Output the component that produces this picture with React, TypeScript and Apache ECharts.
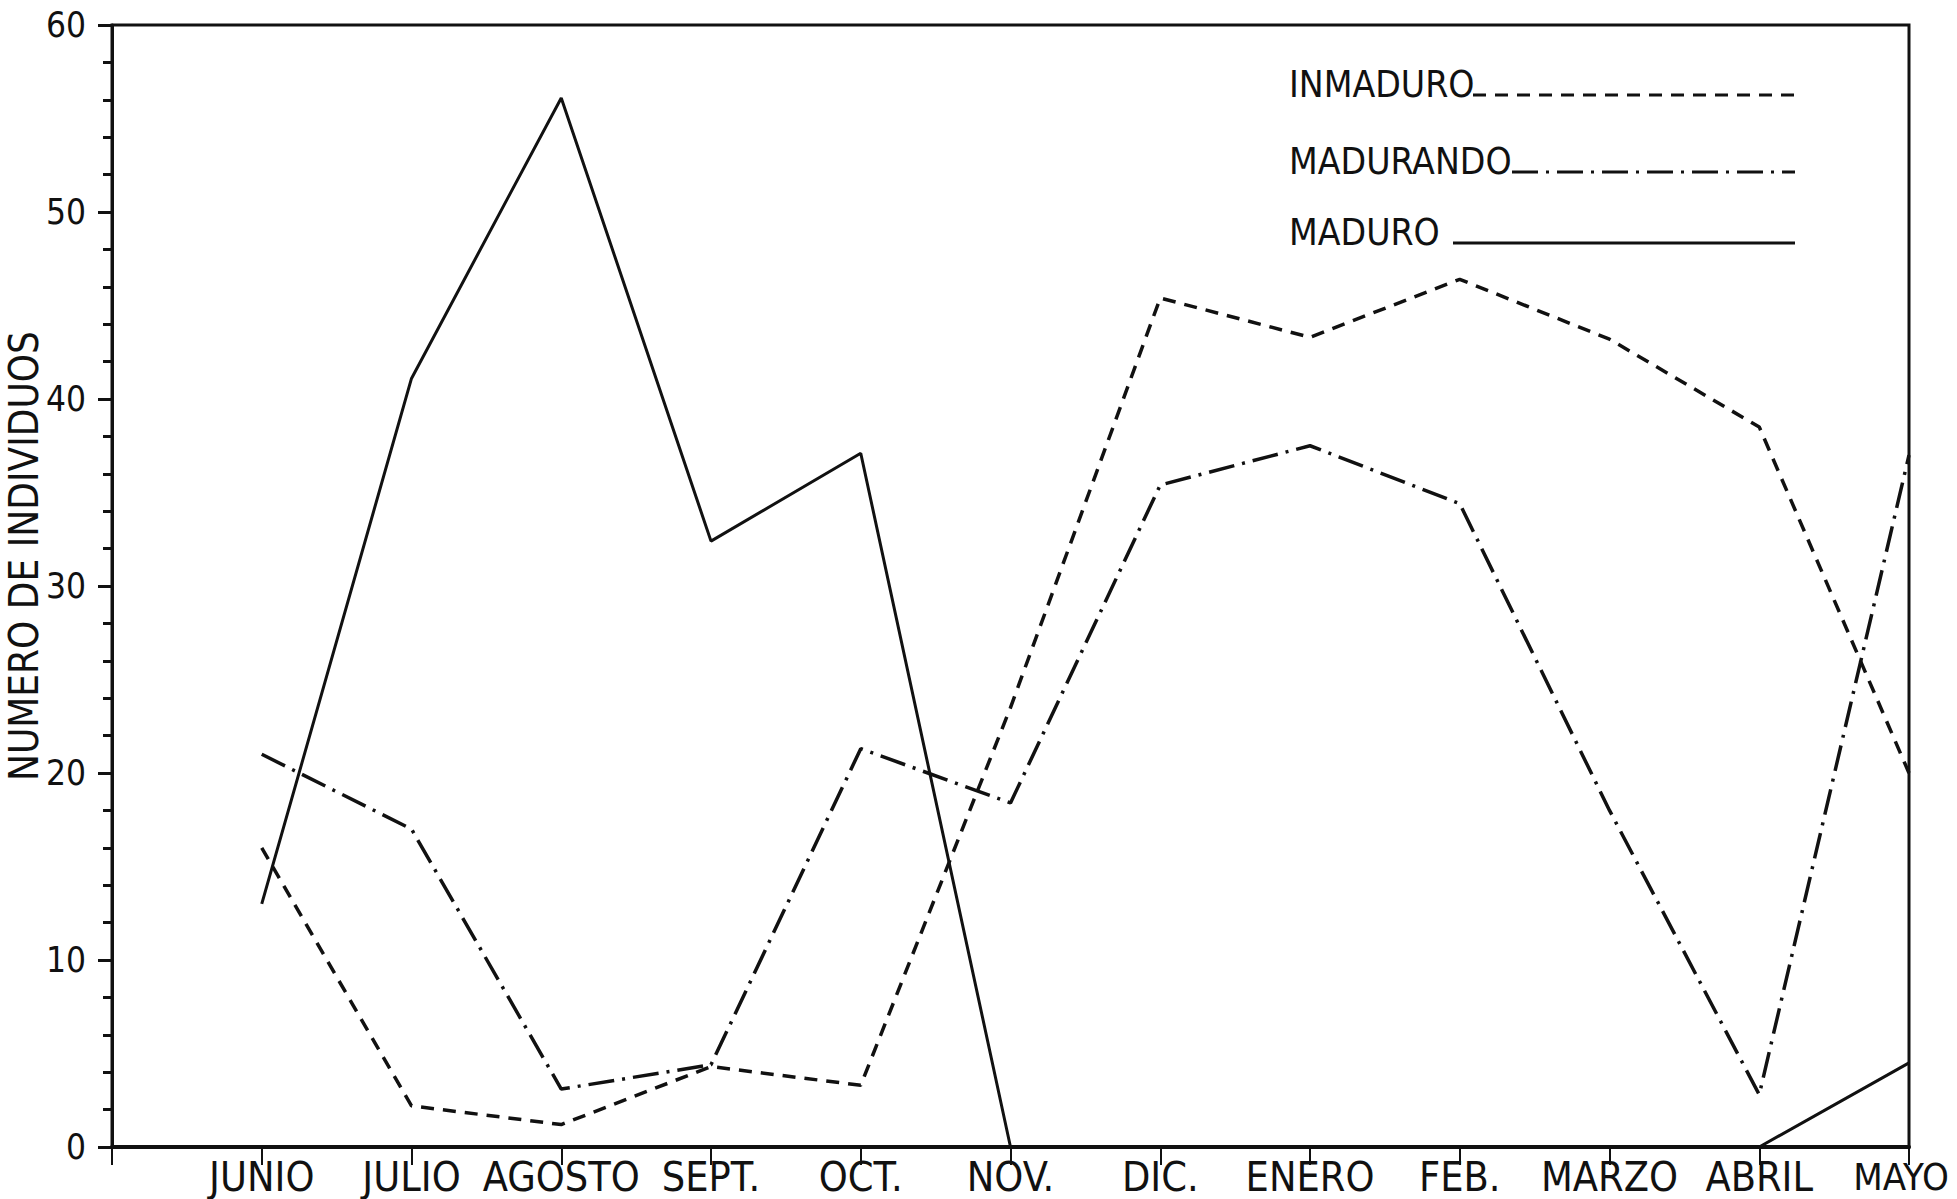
import React, { useEffect, useRef } from "react";
import * as echarts from "echarts";

const months = ["JUNIO", "JULIO", "AGOSTO", "SEPT.", "OCT.", "NOV.", "DIC.", "ENERO", "FEB.", "MARZO", "ABRIL", "MAYO"];
const inmaduro = [16.0, 2.2, 1.2, 4.3, 3.3, 23.5, 45.4, 43.3, 46.4, 43.2, 38.5, 20.0];
const madurando = [21.0, 17.0, 3.1, 4.4, 21.3, 18.4, 35.4, 37.5, 34.4, 18.0, 2.8, 37.0];
const maduro = [13.0, 41.1, 56.1, 32.4, 37.1, 0, 0, 0, 0, 0, 0, 4.5];
const yTicks = [0, 10, 20, 30, 40, 50, 60];
const seriesNames = ["INMADURO", "MADURANDO", "MADURO"];
const yTitle = "NUMERO DE INDIVIDUOS";

const INK = "#111";
const FONT = "'DejaVu Sans Condensed', 'Liberation Sans Narrow', 'DejaVu Sans', sans-serif";
const DASH = [13, 9];
const DASHDOT = [26, 8, 3, 8];

export default function App() {
  const ref = useRef<HTMLDivElement>(null);
  useEffect(() => {
    const chart = echarts.init(ref.current!, null, { renderer: "svg" });
    const toPts = (arr: number[]) => arr.map((v, i) => [i, v]);
    const mkLine = (name: string, data: number[], type: any, width: number) => ({
      name,
      type: "line",
      data: toPts(data),
      symbol: "none",
      lineStyle: { color: INK, width, type },
      z: 3,
    });
    const legendRows = [
      { label: seriesNames[0], y: 95, x1: 1473, dash: DASH },
      { label: seriesNames[1], y: 172, x1: 1512, dash: DASHDOT },
      { label: seriesNames[2], y: 243, x1: 1453, dash: null },
    ];
    const graphic: any[] = [
      {
        type: "text",
        x: 24,
        y: 556,
        rotation: Math.PI / 2,
        style: {
          text: yTitle,
          font: `40px ${FONT}`,
          fill: INK,
          align: "center",
          verticalAlign: "middle",
        },
      },
    ];
    legendRows.forEach((r) => {
      graphic.push({
        type: "text",
        left: 1289,
        top: r.y - 29,
        style: { text: r.label, font: `37px ${FONT}`, fill: INK },
      });
      graphic.push({
        type: "line",
        shape: { x1: r.x1, y1: r.y, x2: 1795, y2: r.y },
        style: { stroke: INK, lineWidth: 3, lineDash: r.dash || undefined },
      });
    });
    const last = months.length - 1;
    chart.setOption({
      animation: false,
      backgroundColor: "#fff",
      grid: {
        left: 112,
        top: 25,
        right: 48,
        bottom: 52,
        outerBoundsMode: "none",
        containLabel: false,
        show: true,
        borderColor: INK,
        borderWidth: 3,
      },
      xAxis: {
        type: "value",
        min: -1,
        max: 11,
        interval: 1,
        splitLine: { show: false },
        axisLine: { lineStyle: { color: INK, width: 4 } },
        axisTick: { length: 18, lineStyle: { color: INK, width: 2 } },
        axisLabel: {
          margin: 9,
          color: INK,
          fontSize: 41,
          fontFamily: FONT,
          formatter: (v: number) => (v === last ? `{m|${months[v]}}` : months[v] ?? ""),
          rich: { m: { fontSize: 38, fontFamily: FONT, color: INK, padding: [2, 16, 0, 0] } },
        },
      },
      yAxis: {
        type: "value",
        min: yTicks[0],
        max: yTicks[yTicks.length - 1],
        interval: 10,
        splitLine: { show: false },
        axisLine: { onZero: false, lineStyle: { color: INK, width: 3 } },
        axisTick: { length: 14, lineStyle: { color: INK, width: 3 } },
        minorTick: { show: true, splitNumber: 5, length: 9, lineStyle: { color: INK, width: 3 } },
        axisLabel: { margin: 26, color: INK, fontSize: 35, fontFamily: FONT },
      },
      series: [
        mkLine(seriesNames[0], inmaduro, DASH, 3.5),
        mkLine(seriesNames[1], madurando, DASHDOT, 3.5),
        mkLine(seriesNames[2], maduro, "solid", 3),
      ],
      graphic,
    });
    return () => chart.dispose();
  }, []);
  return (
    <div
      ref={ref}
      style={{ position: "absolute", left: 0, top: 0, width: 1957, height: 1199, background: "#fff" }}
    />
  );
}
